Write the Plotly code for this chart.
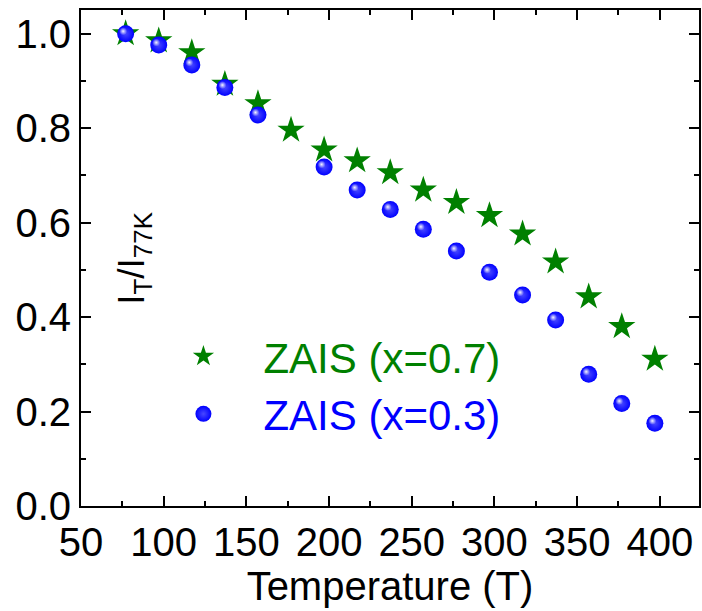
import plotly.graph_objects as go

temp_07 = [77, 97, 117, 137, 157, 177, 197, 217, 237, 257, 277, 297, 317, 337, 357, 377, 397]
ratio_07 = [1.0, 0.985, 0.960, 0.893, 0.852, 0.796, 0.754, 0.731, 0.706, 0.669, 0.643, 0.615, 0.576, 0.517, 0.443, 0.380, 0.311]

temp_03 = [77, 97, 117, 137, 157, 197, 217, 237, 257, 277, 297, 317, 337, 357, 377, 397]
ratio_03 = [1.0, 0.976, 0.934, 0.886, 0.828, 0.718, 0.669, 0.628, 0.586, 0.540, 0.495, 0.447, 0.394, 0.279, 0.217, 0.175]

name_07 = "ZAIS (x=0.7)"
name_03 = "ZAIS (x=0.3)"
x_title = "Temperature (T)"
y_title = "I<sub>T</sub>/I<sub>77K</sub>"

FONT = "Liberation Sans, Arial, sans-serif"
GREEN = "#008000"
BLUE = "#0000ff"

X_RANGE = [50, 423.7]
Y_RANGE = [0, 1.0502]
# highlight offset (pixels -> data units) for the glossy sphere look
PX_X = (X_RANGE[1] - X_RANGE[0]) / 620.0
PX_Y = (Y_RANGE[1] - Y_RANGE[0]) / 496.0
HL_DX, HL_DY = 2.5, 2.5

fig = go.Figure()
fig.add_trace(go.Scatter(
    x=temp_07, y=ratio_07, mode="markers",
    name=f"<span style='color:{GREEN}'>{name_07}</span>",
    marker=dict(symbol="star", size=20.5, color=GREEN, line=dict(width=0)),
))
fig.add_trace(go.Scatter(
    x=temp_03, y=ratio_03, mode="markers",
    name=f"<span style='color:{BLUE}'>{name_03}</span>",
    marker=dict(symbol="circle", size=17, color=BLUE, line=dict(width=0),
                gradient=dict(type="radial", color="#4848ff")),
))
# glossy highlight on the spheres (same data, drawn on slightly shifted overlay axes)
fig.add_trace(go.Scatter(
    x=temp_03, y=ratio_03, mode="markers", xaxis="x2", yaxis="y2",
    showlegend=False, hoverinfo="skip",
    marker=dict(symbol="circle", size=8, color="rgba(255,255,255,0)", line=dict(width=0),
                gradient=dict(type="radial", color="rgba(255,255,255,0.95)")),
))

axis_common = dict(
    showline=True, linecolor="black", linewidth=2, mirror="allticks",
    ticks="inside", ticklen=10, tickwidth=2, tickcolor="black",
    showgrid=False, zeroline=False,
    tickfont=dict(family=FONT, size=40, color="black"),
)

fig.update_layout(
    width=702, height=611,
    margin=dict(l=81, r=1, t=10, b=105),
    paper_bgcolor="white", plot_bgcolor="white",
    showlegend=True,
    legend=dict(
        x=0.101, y=0.243, xanchor="left", yanchor="middle",
        bgcolor="rgba(0,0,0,0)", borderwidth=0,
        font=dict(family=FONT, size=42, color="black"),
        itemwidth=110, tracegroupgap=0,
    ),
    xaxis=dict(
        range=X_RANGE, dtick=50, tick0=50,
        minor=dict(dtick=25, ticks="inside", ticklen=5, tickwidth=2, tickcolor="black"),
        title=dict(text=x_title, font=dict(family=FONT, size=40, color="black"), standoff=0),
        **axis_common,
    ),
    yaxis=dict(
        range=Y_RANGE, dtick=0.2, tick0=0, tickformat=".1f",
        minor=dict(dtick=0.1, ticks="inside", ticklen=5, tickwidth=2, tickcolor="black"),
        **axis_common,
    ),
    xaxis2=dict(
        overlaying="x", visible=False,
        range=[X_RANGE[0] + HL_DX * PX_X, X_RANGE[1] + HL_DX * PX_X],
    ),
    yaxis2=dict(
        overlaying="y", visible=False,
        range=[Y_RANGE[0] - HL_DY * PX_Y, Y_RANGE[1] - HL_DY * PX_Y],
    ),
    annotations=[dict(
        text=y_title, textangle=-90, xref="paper", yref="paper",
        x=0.045, y=0.5, showarrow=False,
        font=dict(family=FONT, size=37, color="black"),
    )],
)

fig.write_html("out.html")
